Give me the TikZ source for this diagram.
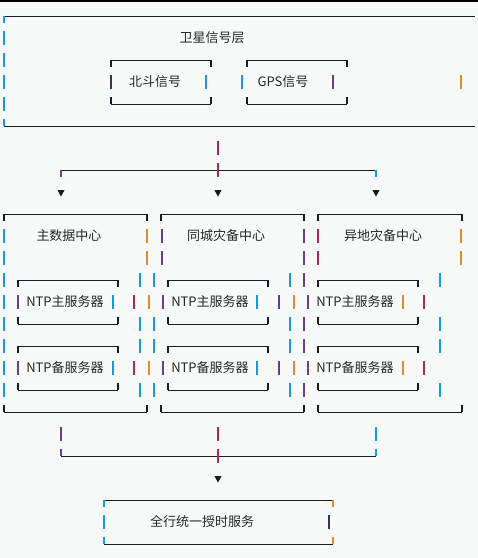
\documentclass[tikz,border=0pt]{standalone}
\usepackage{fontspec}
\newfontfamily\cjk{Noto Sans CJK SC}
\begin{document}
\begin{tikzpicture}[x=1pt,y=-1pt,
  hl/.style={draw=lineblk,line width=1pt},
  bar/.style={line width=1.1pt},
  lbl/.style={inner sep=0pt,font=\cjk\fontsize{13}{13}\selectfont,text=txt,anchor=center},
  tri/.style={fill=lineblk,draw=none}]
\definecolor{bg}{HTML}{F8FAFA}
\definecolor{lineblk}{HTML}{1A1A24}
\definecolor{txt}{HTML}{262626}
\definecolor{cB}{HTML}{1A98DC}
\definecolor{cO}{HTML}{E8892A}
\definecolor{cP}{HTML}{6A3D8A}
\definecolor{cR}{HTML}{B02850}
\definecolor{cK}{HTML}{3A2F50}
\useasboundingbox (0,0) rectangle (478,558);
\fill[bg] (0,0) rectangle (478,558);
\fill[black] (0,0) rectangle (478,1.5);
% ---------- satellite layer ----------
\draw[hl] (4,16) -- (475,16);
\draw[hl] (4,126) -- (475,126);
\draw[bar,cB] (4,16) -- (4,23);
\draw[bar,cB] (4,119) -- (4,126);
\foreach \y in {38,60,82,104} \draw[bar,cB] (4,{\y-7}) -- (4,{\y+7});
\draw[bar,cO] (461,75) -- (461,89);
\node[lbl] (sat) at (212,38) {卫星信号层};
% inner boxes
\foreach \a/\b in {111/211,247/347}{
  \draw[hl] (\a,60) -- (\b,60);
  \draw[hl] (\a,104) -- (\b,104);
  \draw[bar,lineblk] (\a,60) -- (\a,67);
  \draw[bar,lineblk] (\b,60) -- (\b,67);
  \draw[bar,lineblk] (\a,97) -- (\a,104);
  \draw[bar,lineblk] (\b,97) -- (\b,104);
}
\draw[bar,cK] (111,75) -- (111,89);
\draw[bar,cB] (206,75) -- (206,89);
\draw[bar,cB] (242,75) -- (242,89);
\draw[bar,cP] (333,75) -- (333,89);
\node[lbl] (bd) at (155,82) {北斗信号};
\node[lbl] (gps) at (283,82) {GPS信号};
% ---------- fan-out ----------
\coordinate (s1) at (218,141);
\coordinate (s2) at (218,155);
\coordinate (j1) at (61,170);
\coordinate (j2) at (218,170);
\coordinate (j3) at (376,170);
\draw[bar,cR] (s1) -- (s2);
\draw[hl] (j1) -- (j3);
\draw[bar,cP] (j1) -- ++(0,7);
\draw[bar,cB] (j3) -- ++(0,7);
\draw[bar,cR] (218,163) -- (218,177);
\foreach \x in {61,218,376} \fill[tri] ({\x-3.6},190) -- ({\x+3.6},190) -- (\x,196.5) -- cycle;
% ---------- data centres ----------
\foreach \a/\b in {4/147,161/304,318/462}{
  \draw[hl] (\a,214) -- (\b,214);
  \draw[hl] (\a,412) -- (\b,412);
  \draw[bar,lineblk] (\a,214) -- (\a,221);
  \draw[bar,lineblk] (\b,214) -- (\b,221);
  \draw[bar,lineblk] (\a,405) -- (\a,412);
  \draw[bar,lineblk] (\b,405) -- (\b,412);
}
\foreach \y in {236,258,280,302,324,346,368,390} \draw[bar,cB] (4,{\y-7}) -- (4,{\y+7});
\foreach \y in {236,258}{
  \foreach \x/\c in {147/cO,162/cP,304/cP,318/cR,461/cO}
    \draw[bar,\c] (\x,{\y-7}) -- (\x,{\y+7});
}
\foreach \y in {280,324,346,390}{
  \foreach \x/\c in {140/cB,154/cB,290/cB,304/cP,440/cB}
    \draw[bar,\c] (\x,{\y-7}) -- (\x,{\y+7});
}
\foreach \y in {302,368}{
  \foreach \x/\c in {18/cP,113/cB,134/cR,149/cO,163/cP,257/cB,279/cP,294/cO,308/cP,403/cO,424/cR}
    \draw[bar,\c] (\x,{\y-7}) -- (\x,{\y+7});
}
% inner server boxes
\foreach \a/\b in {18/118,168/268,318/418}{
  \foreach \t/\u in {280/324,346/390}{
    \draw[hl] (\a,\t) -- (\b,\t);
    \draw[hl] (\a,\u) -- (\b,\u);
    \draw[bar,lineblk] (\a,\t) -- (\a,{\t+7});
    \draw[bar,lineblk] (\b,\t) -- (\b,{\t+7});
    \draw[bar,lineblk] (\a,{\u-7}) -- (\a,\u);
    \draw[bar,lineblk] (\b,{\u-7}) -- (\b,\u);
  }
}
\node[lbl] (dc1) at (69,236) {主数据中心};
\node[lbl] (dc2) at (226,236) {同城灾备中心};
\node[lbl] (dc3) at (383,236) {异地灾备中心};
\node[lbl] (m1) at (65,302) {NTP主服务器};
\node[lbl] (m2) at (210,302) {NTP主服务器};
\node[lbl] (m3) at (355,302) {NTP主服务器};
\node[lbl] (b1) at (65,368) {NTP备服务器};
\node[lbl] (b2) at (210,368) {NTP备服务器};
\node[lbl] (b3) at (355,368) {NTP备服务器};
% ---------- fan-in ----------
\coordinate (k1) at (61,456);
\coordinate (k2) at (218,456);
\coordinate (k3) at (376,456);
\draw[bar,cP] (61,427) -- (61,441);
\draw[bar,cR] (218,427) -- (218,441);
\draw[bar,cB] (376,427) -- (376,441);
\draw[hl] (k1) -- (k3);
\draw[bar,cP] (k1) -- ++(0,-7);
\draw[bar,cB] (k3) -- ++(0,-7);
\draw[bar,cR] (218,449) -- (218,463);
\fill[tri] (214.4,476) -- (221.6,476) -- (218,482.5) -- cycle;
% ---------- final service ----------
\draw[hl] (104,500) -- (333,500);
\draw[hl] (104,544) -- (333,544);
\draw[bar,cB] (104,500) -- (104,507);
\draw[bar,cO] (333,500) -- (333,507);
\draw[bar,cB] (104,537) -- (104,544);
\draw[bar,cO] (333,537) -- (333,544);
\draw[bar,cB] (104,515) -- (104,529);
\draw[bar,cK] (329,515) -- (329,529);
\node[lbl] (svc) at (202,522) {全行统一授时服务};
\end{tikzpicture}
\end{document}
